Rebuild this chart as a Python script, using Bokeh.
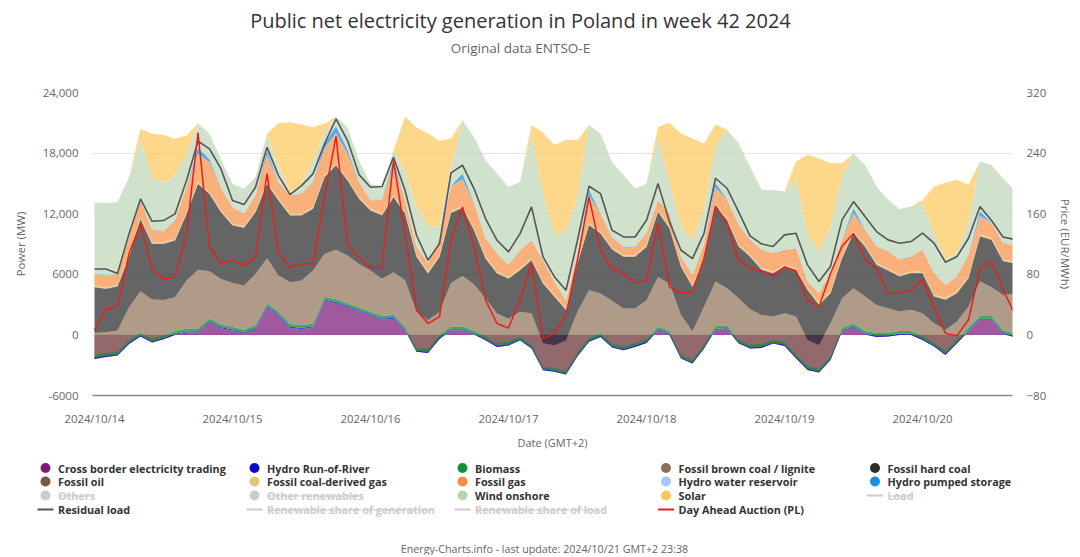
import pandas as pd
from bokeh.plotting import figure
from bokeh.models import Range1d, LinearAxis, FixedTicker, DatetimeTickFormatter, ColumnDataSource
from bokeh.layouts import column
from bokeh.core.properties import value
from bokeh.embed import file_html
from bokeh.resources import INLINE

FONT = "Open Sans"

# ---------------- data (MW, 2-hourly from 2024-10-14 00:00) ----------------
cross_border = [-2380, -2180, -2050, -890, -170, -760, -430, 0, 230, 260,
                1250, 660, 430, 100, 590, 2740, 1910, 690, 590, 730,
                3400, 3140, 2740, 2340, 1910, 1520, 1580, 460, -1680, -1780,
                -400, 460, 460, 30, -530, -1190, -1060, -530, -1350, -3500,
                -3660, -3930, -2110, -690, -200, -1250, -1520, -1190, -790, 460,
                -30, -2340, -2840, -1340, 500, 560, -830, -1350, -1290, -860,
                -1090, -2310, -3470, -3730, -2480, 330, 730, 30, -200, -170,
                0, 0, -500, -1160, -1980, -830, 330, 1490, 1490, 100, -230]
hydro_ror = [110, 110, 110, 110, 110, 110, 110, 110, 110, 110,
             110, 110, 110, 110, 110, 110, 110, 110, 110, 110,
             110, 110, 110, 110, 110, 110, 110, 110, 110, 110,
             110, 110, 110, 110, 110, 110, 110, 110, 110, 110,
             110, 110, 110, 110, 110, 110, 110, 110, 110, 110,
             110, 110, 110, 110, 110, 110, 110, 110, 110, 110,
             110, 110, 110, 110, 110, 110, 110, 110, 110, 110,
             110, 110, 110, 110, 110, 110, 110, 110, 110, 110, 110]
biomass = [270, 270, 270, 270, 270, 270, 270, 270, 270, 270,
           270, 270, 270, 270, 270, 270, 270, 270, 270, 270,
           270, 270, 270, 270, 270, 270, 270, 270, 270, 270,
           270, 270, 270, 270, 270, 270, 270, 270, 270, 270,
           270, 270, 270, 270, 270, 270, 270, 270, 270, 270,
           270, 270, 270, 270, 270, 270, 270, 270, 270, 270,
           270, 270, 270, 270, 270, 270, 270, 270, 270, 270,
           270, 270, 270, 270, 270, 270, 270, 270, 270, 270, 270]
lignite = [2190, 2060, 2100, 3250, 4110, 3880, 3510, 3350, 4770, 5820,
           4670, 4500, 4340, 4410, 5070, 4470, 3580, 4140, 4410, 5260,
           4240, 4900, 4740, 4310, 4080, 3650, 4240, 4570, 3580, 2850,
           2290, 4310, 5000, 4600, 3750, 2920, 2290, 2430, 3090, 2330,
           2260, 3020, 4010, 4740, 3910, 4240, 3750, 3420, 3840, 4900,
           4740, 3910, 2820, 3750, 4410, 3680, 4080, 3510, 2890, 2290,
           2850, 3750, 2590, 2360, 3250, 2920, 3510, 3380, 2790, 2430,
           1930, 2100, 2260, 1930, 2100, 1770, 2100, 3420, 2850, 3480, 3950]
hard_coal = [4520, 4290, 4360, 4950, 7160, 5510, 5540, 5610, 6600, 8480,
             7660, 6600, 5680, 5710, 6110, 7360, 7430, 6600, 6440, 6110,
             7590, 8350, 7430, 6440, 5940, 6270, 7430, 6600, 5450, 4620,
             5450, 6930, 6730, 5350, 3960, 3960, 3960, 4130, 5280, 5870,
             4790, 2990, 4790, 6440, 5940, 5090, 5120, 5120, 5280, 6440,
             5450, 4790, 4390, 4620, 7430, 6770, 5120, 5210, 4460, 4290,
             4620, 4620, 4950, 3960, 2970, 3960, 5450, 4950, 3960, 3730,
             3470, 3630, 3960, 2640, 2970, 2810, 2810, 4460, 4690, 3340, 2970]
fossil_oil = [40, 40, 40, 40, 40, 40, 40, 40, 40, 40,
              40, 40, 40, 40, 40, 40, 40, 40, 40, 40,
              40, 40, 40, 40, 40, 40, 40, 40, 40, 40,
              40, 40, 40, 40, 40, 40, 40, 40, 40, 40,
              40, 40, 40, 40, 40, 40, 40, 40, 40, 40,
              40, 40, 40, 40, 40, 40, 40, 40, 40, 40,
              40, 40, 40, 40, 40, 40, 40, 40, 40, 40,
              40, 40, 40, 40, 40, 40, 40, 40, 40, 40, 40]
coal_gas = [140, 140, 140, 140, 140, 140, 140, 140, 140, 140,
            140, 140, 140, 140, 140, 140, 140, 140, 140, 140,
            140, 140, 140, 140, 140, 140, 140, 140, 140, 140,
            140, 140, 140, 140, 140, 140, 140, 140, 140, 140,
            140, 140, 140, 140, 140, 140, 140, 140, 140, 140,
            140, 140, 140, 140, 140, 140, 140, 140, 140, 140,
            140, 140, 140, 140, 140, 140, 140, 140, 140, 140,
            140, 140, 140, 140, 140, 140, 140, 140, 140, 140, 140]
fossil_gas = [1140, 1140, 1070, 1800, 1640, 1210, 1070, 1800, 2460, 2790,
              2960, 2230, 1640, 1210, 1470, 2630, 1640, 1800, 1970, 2460,
              2630, 3020, 2460, 1470, 810, 1370, 2960, 1140, 810, 810,
              1640, 2460, 2630, 2460, 1800, 1800, 1140, 1800, 1800, 2130,
              1300, 800, 810, 2690, 1800, 1000, 810, 810, 1140, 980,
              1300, 810, 980, 1470, 1640, 1800, 1970, 1470, 1800, 1800,
              1470, 1970, 650, 980, 1800, 1640, 1800, 1470, 1640, 1700,
              1470, 1470, 2130, 2130, 1300, 1470, 2130, 1800, 1470, 1620, 1600]
hydro_reservoir = [30, 30, 30, 30, 30, 30, 30, 30, 30, 30,
                   30, 30, 30, 30, 30, 30, 30, 30, 30, 30,
                   30, 30, 30, 30, 30, 30, 30, 30, 30, 30,
                   30, 30, 30, 30, 30, 30, 30, 30, 30, 30,
                   30, 30, 30, 30, 30, 30, 30, 30, 30, 30,
                   30, 30, 30, 30, 30, 30, 30, 30, 30, 30,
                   30, 30, 30, 30, 30, 30, 30, 30, 30, 30,
                   30, 30, 30, 30, 30, 30, 30, 30, 30, 30, 30]
pumped_storage = [20, 20, 20, 20, 20, 20, 20, 20, 20, 570,
                  270, 20, 20, 20, 20, 470, 20, 20, 20, 20,
                  470, 670, 370, 20, 20, 20, 470, 20, 20, 20,
                  20, 20, 570, 20, 20, 20, 20, 20, 20, 20,
                  20, 20, 20, 570, 20, 20, 20, 20, 20, 20,
                  20, 20, 20, 20, 470, 20, 20, 20, 20, 20,
                  20, 20, 20, 20, 20, 20, 470, 20, 20, 20,
                  20, 20, 20, 20, 20, 20, 20, 470, 20, 20, 20]
wind_onshore = [7050, 7110, 7050, 5890, 5890, 5100, 4800, 4410, 3090, 2440,
                2510, 2760, 2260, 2430, 1770, 1480, 1600, 280, 940, 2100,
                1150, 950, 2240, 2100, 1600, 1270, 990, 2760, 3910, 3750,
                1110, 1860, 5270, 6550, 7710, 7870, 7710, 6720, 10350, 6390,
                4740, 6720, 5560, 6430, 7870, 7440, 7050, 5730, 4900, 6050,
                2920, 2920, 3420, 3250, 3630, 6880, 8040, 7210, 5890, 6220,
                5730, 6720, 4740, 4080, 4570, 6220, 5440, 6390, 5890, 5070,
                4970, 4900, 4570, 3910, 2430, 2260, 3090, 4950, 5720, 6360, 5400]
solar = [0, 0, 0, 0, 1160, 4360, 4720, 3630, 1980, 0,
         0, 0, 0, 0, 0, 170, 4220, 6930, 5870, 3300,
         830, 0, 0, 0, 0, 0, 0, 5450, 7850, 9080,
         8510, 2810, 0, 0, 0, 0, 0, 0, 990, 6200,
         8750, 9140, 5610, 0, 0, 0, 0, 0, 0, 1160,
         6010, 9240, 10070, 6600, 2150, 0, 0, 0, 0, 0,
         0, 1820, 7760, 9240, 6270, 1320, 0, 0, 0, 0,
         0, 0, 330, 4620, 7660, 7260, 3800, 0, 0, 0, 0]
residual_load = [6530, 6530, 6070, 10000, 13460, 11250, 11320, 11980, 15280, 19170,
                 18410, 16430, 13300, 12900, 14620, 18580, 15770, 13890, 14780, 15940,
                 18910, 21380, 19240, 15870, 14620, 14690, 17590, 14320, 9870, 7390,
                 9040, 16040, 16800, 14490, 11520, 9370, 8220, 10030, 12670, 7720,
                 5740, 4420, 9370, 14720, 13990, 10360, 9700, 9700, 11350, 14980,
                 11190, 8380, 7560, 10050, 15510, 14520, 12210, 9800, 9010, 8750,
                 9900, 10070, 6930, 5280, 6770, 11390, 13200, 11720, 10230, 9410,
                 9080, 9240, 10070, 9080, 7190, 7760, 9570, 12710, 11320, 9700, 9450]
day_ahead_price = [6, 34, 37, 107, 147, 87, 74, 76, 133, 267,
                   116, 95, 98, 92, 103, 213, 109, 89, 94, 94,
                   182, 262, 120, 102, 89, 89, 230, 134, 33, 15,
                   24, 125, 169, 116, 46, 15, 9, 46, 94, -5,
                   2, 26, 99, 182, 112, 88, 81, 69, 72, 147,
                   63, 55, 57, 101, 170, 147, 99, 88, 84, 78,
                   90, 84, 46, 37, 81, 117, 134, 99, 88, 55,
                   55, 59, 73, 37, 2, -1, 20, 88, 97, 60, 28]

day_labels = ["2024/10/14", "2024/10/15", "2024/10/16", "2024/10/17",
              "2024/10/18", "2024/10/19", "2024/10/20"]
power_ticks = [-6000, 0, 6000, 12000, 18000, 24000]
power_tick_labels = ["-6000", "0", "6000", "12,000", "18,000", "24,000"]
price_ticks = [-80, 0, 80, 160, 240, 320]

start = pd.Timestamp("2024-10-14 00:00")
times = pd.date_range(start, periods=len(cross_border), freq="2h")

stack_cols = ["cross_border", "hydro_ror", "biomass", "lignite", "hard_coal", "fossil_oil",
              "coal_gas", "fossil_gas", "hydro_reservoir", "pumped_storage", "wind_onshore", "solar"]
stack_colors = ["#7a1a7a", "#0a0ac8", "#13903a", "#8e6f55", "#242424", "#7a5a3c",
                "#e0c275", "#f68e41", "#aac4ff", "#1a90e0", "#bcd6b6", "#fcc758"]
stack_alpha = [0.72, 0.8, 0.8, 0.7, 0.7, 0.7, 0.7, 0.7, 0.7, 0.75, 0.7, 0.7]

src = ColumnDataSource(dict(
    x=times, cross_border=cross_border, hydro_ror=hydro_ror, biomass=biomass,
    lignite=lignite, hard_coal=hard_coal, fossil_oil=fossil_oil, coal_gas=coal_gas,
    fossil_gas=fossil_gas, hydro_reservoir=hydro_reservoir, pumped_storage=pumped_storage,
    wind_onshore=wind_onshore, solar=solar, residual_load=residual_load,
    price=day_ahead_price))

W = 1080
TXT = "#666666"

# ---------------- title figure ----------------
TH = 68
top = figure(width=W, height=TH, x_range=Range1d(0, W), y_range=Range1d(TH, 0),
             x_axis_type=None, y_axis_type=None, output_backend="svg",
             toolbar_location=None, min_border=0, outline_line_color=None)
top.frame_align = False
top.text(x=[520], y=[20], text=["Public net electricity generation in Poland in week 42 2024"],
         text_font=value(FONT), text_font_size="20px", text_color="#333333",
         text_align="center", text_baseline="middle")
top.text(x=[520], y=[47], text=["Original data ENTSO-E"],
         text_font=value(FONT), text_font_size="13.5px", text_color=TXT,
         text_align="center", text_baseline="middle")

# ---------------- main chart ----------------
x0 = start - pd.Timedelta(minutes=21)
x1 = start + pd.Timedelta(hours=159, minutes=39)
p = figure(width=W, height=392, x_axis_type="datetime", output_backend="svg",
           toolbar_location=None, x_range=Range1d(x0, x1), y_range=Range1d(-6000, 24000),
           min_border_left=92, min_border_right=68, min_border_top=24, min_border_bottom=65,
           outline_line_color=None)
p.frame_align = False
p.extra_y_ranges = {"price": Range1d(-80, 320)}

p.varea_stack(stack_cols, x="x", fill_color=stack_colors, fill_alpha=stack_alpha, source=src)
p.line("x", "residual_load", source=src, line_color="#555555", line_width=1.6)
p.line("x", "price", source=src, y_range_name="price", line_color="#e3201b", line_width=1.5)

p.ygrid.ticker = FixedTicker(ticks=power_ticks)
p.ygrid.grid_line_color = "#e6e6e6"
p.xgrid.grid_line_color = None

yax = p.yaxis[0]
yax.ticker = FixedTicker(ticks=power_ticks)
yax.major_label_overrides = {t: s for t, s in zip(power_ticks, power_tick_labels)}
yax.axis_label = "Power (MW)"

rax = LinearAxis(y_range_name="price", ticker=FixedTicker(ticks=price_ticks),
                 axis_label="Price (EUR/MWh)")
p.add_layout(rax, "right")

for ax in (yax, rax):
    ax.axis_line_color = None
    ax.major_tick_line_color = None
    ax.minor_tick_line_color = None
    ax.major_tick_out = 0
    ax.minor_tick_out = 0
    ax.major_label_text_font = FONT
    ax.major_label_text_font_size = "11.5px"
    ax.major_label_text_color = TXT
    ax.axis_label_text_font = FONT
    ax.axis_label_text_font_size = "11.5px"
    ax.axis_label_text_font_style = "normal"
    ax.axis_label_text_color = TXT
yax.major_label_standoff = 14
yax.axis_label_standoff = 12
rax.major_label_standoff = 14
rax.axis_label_standoff = 9

day_ticks = [(pd.Timestamp(d.replace("/", "-")) - pd.Timestamp("1970-01-01")).total_seconds() * 1000
             for d in day_labels]
xax = p.xaxis[0]
xax.ticker = FixedTicker(ticks=day_ticks)
fmt = "%Y/%m/%d"
xax.formatter = DatetimeTickFormatter(days=fmt, months=fmt, hours=fmt, hourmin=fmt,
                                      minutes=fmt, years=fmt, minsec=fmt, seconds=fmt)
xax.axis_line_color = "#8c8c8c"
xax.axis_line_width = 1.5
xax.major_tick_line_color = None
xax.minor_tick_line_color = None
xax.major_tick_out = 0
xax.minor_tick_out = 0
xax.major_label_standoff = 15
xax.major_label_text_font = FONT
xax.major_label_text_font_size = "11.3px"
xax.major_label_text_color = TXT
xax.axis_label = "Date (GMT+2)"
xax.axis_label_standoff = 6
xax.axis_label_text_font = FONT
xax.axis_label_text_font_size = "11px"
xax.axis_label_text_font_style = "normal"
xax.axis_label_text_color = TXT

# ---------------- legend + footer figure ----------------
LH = 95
LY0 = 460  # page y of this figure's top
leg = figure(width=W, height=LH, x_range=Range1d(0, W), y_range=Range1d(LH, 0),
             x_axis_type=None, y_axis_type=None, output_backend="svg",
             toolbar_location=None, min_border=0, outline_line_color=None)
leg.frame_align = False

legend_labels = ["Cross border electricity trading", "Hydro Run-of-River", "Biomass",
                 "Fossil brown coal / lignite", "Fossil hard coal",
                 "Fossil oil", "Fossil coal-derived gas", "Fossil gas",
                 "Hydro water reservoir", "Hydro pumped storage",
                 "Others", "Other renewables", "Wind onshore", "Solar", "Load",
                 "Residual load", "Renewable share of generation", "Renewable share of load",
                 "Day Ahead Auction (PL)"]
legend_colors = ["#7a1a7a", "#0a0ac8", "#13903a", "#8e6f55", "#2b2b2b",
                 "#7a5a3c", "#e3c779", "#f68e41", "#aac4ff", "#1a90e0",
                 "#cccccc", "#cccccc", "#b7d4b0", "#fcc758", "#cccccc",
                 "#555555", "#cccccc", "#cccccc", "#e3201b"]
legend_kind = ["dot"] * 14 + ["line"] * 5
legend_hidden = [False] * 10 + [True, True, False, False, True, False, True, True, False]
strike_width = {"Others": 36, "Other renewables": 94, "Load": 26,
                "Renewable share of generation": 165, "Renewable share of load": 123}

col_x = [45, 254, 462, 665.5, 874.5]
row_y = [467.5 - LY0, 481 - LY0, 495 - LY0, 509 - LY0]

dot_x, dot_y, dot_c = [], [], []
ln_x0, ln_x1, ln_y, ln_c = [], [], [], []
tx, ty, tt, tc = [], [], [], []
sx0, sx1, sy = [], [], []
for i, lab in enumerate(legend_labels):
    cx = col_x[i % 5]
    cy = row_y[i // 5]
    if legend_kind[i] == "dot":
        dot_x.append(cx); dot_y.append(cy); dot_c.append(legend_colors[i])
    else:
        ln_x0.append(cx - 8); ln_x1.append(cx + 8); ln_y.append(cy); ln_c.append(legend_colors[i])
    tx.append(cx + 12.5); ty.append(cy); tt.append(lab)
    tc.append("#cccccc" if legend_hidden[i] else "#333333")
    if legend_hidden[i]:
        sx0.append(cx + 12.5); sx1.append(cx + 12.5 + strike_width[lab]); sy.append(cy + 0.5)

leg.scatter(dot_x, dot_y, size=10, marker="circle", fill_color=dot_c, line_color=None)
leg.segment(x0=ln_x0, y0=ln_y, x1=ln_x1, y1=ln_y, line_color=ln_c, line_width=2)
leg.text(x=tx, y=ty, text=tt, text_color=tc, text_font=value(FONT), text_font_size="10.8px",
         text_font_style="bold", text_align="left", text_baseline="middle")
leg.segment(x0=sx0, y0=sy, x1=sx1, y1=sy, line_color="#cccccc", line_width=1)
leg.text(x=[544], y=[548 - LY0], text=["Energy-Charts.info - last update: 2024/10/21 GMT+2 23:38"],
         text_color=TXT, text_font=value(FONT), text_font_size="10.7px",
         text_align="center", text_baseline="middle")

layout = column(top, p, leg, spacing=0)
open("out.html", "w").write(file_html(layout, INLINE))
